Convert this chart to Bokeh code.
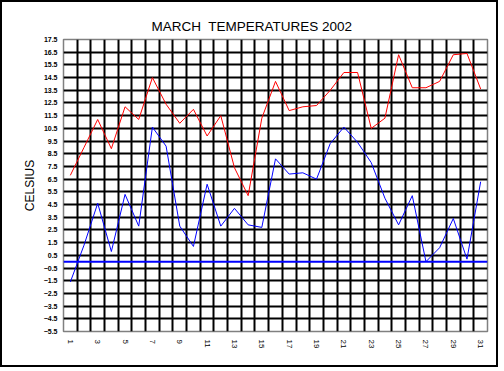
import math
from bokeh.plotting import figure
from bokeh.models import FixedTicker, Span
from bokeh.embed import file_html
from bokeh.resources import INLINE

# ---- data ----
days = list(range(1, 32))
t_max = [6.8, 9.0, 11.2, 8.9, 12.2, 11.2, 14.5, 12.4, 10.9, 12.0, 9.9, 11.5, 7.4, 5.2, 11.3,
         14.2, 11.9, 12.2, 12.3, 13.5, 14.9, 14.9, 10.5, 11.3, 16.3, 13.7, 13.7, 14.2, 16.3, 16.4, 13.6]
t_min = [-1.6, 1.3, 4.6, 0.8, 5.3, 2.8, 10.6, 9.1, 2.8, 1.2, 6.1, 2.8, 4.2, 2.9, 2.7,
         8.1, 6.9, 7.0, 6.5, 9.3, 10.6, 9.4, 7.8, 5.0, 2.9, 5.2, 0.0, 1.1, 3.4, 0.2, 6.3]
x_ticks = [1, 3, 5, 7, 9, 11, 13, 15, 17, 19, 21, 23, 25, 27, 29, 31]
x_tick_labels = ["1", "3", "5", "7", "9", "11", "13", "15", "17", "19", "21", "23", "25", "27", "29", "31"]
y_ticks = [-5.5, -4.5, -3.5, -2.5, -1.5, -0.5, 0.5, 1.5, 2.5, 3.5, 4.5, 5.5, 6.5, 7.5, 8.5,
           9.5, 10.5, 11.5, 12.5, 13.5, 14.5, 15.5, 16.5, 17.5]
title_text = "MARCH\u00a0 TEMPERATURES 2002"
y_label = "CELSIUS"

FONT = "Liberation Sans"

p = figure(width=498, height=367,
           x_range=(days[0] - 0.5, days[-1] + 0.5),
           y_range=(y_ticks[0], y_ticks[-1]),
           output_backend="svg", toolbar_location=None,
           min_border_left=61, min_border_right=13, min_border_top=37, min_border_bottom=38,
           background_fill_color="white", border_fill_color="white",
           outline_line_color="#808080", outline_line_width=1.5)

# outer black border around the whole chart
p.styles = {"border": "2px solid black"}

# title
p.title.text = title_text
p.title.align = "left"
p.title.offset = 88
p.title.standoff = 11
p.title.text_font = FONT
p.title.text_font_size = "13.5px"
p.title.text_font_style = "normal"
p.title.text_color = "black"

# grids
p.xgrid.ticker = FixedTicker(ticks=[d + 0.5 for d in days[:-1]])
p.ygrid.ticker = FixedTicker(ticks=y_ticks[1:-1])
for g in (p.xgrid, p.ygrid):
    g.grid_line_color = "black"
    g.grid_line_width = 2
    g.grid_line_alpha = 1.0

# x axis
xa = p.xaxis[0]
xa.ticker = FixedTicker(ticks=x_ticks)
xa.major_label_overrides = dict(zip(x_ticks, x_tick_labels))
xa.major_label_orientation = -math.pi / 2
xa.major_tick_in = 0
xa.major_tick_out = 0
xa.minor_tick_in = 0
xa.minor_tick_out = 0
xa.axis_line_color = None
xa.major_label_standoff = 8
xa.major_label_text_font = FONT
xa.major_label_text_font_size = "8px"
xa.major_label_text_color = "black"

# y axis
ya = p.yaxis[0]
ya.ticker = FixedTicker(ticks=y_ticks)
ya.major_tick_in = 0
ya.major_tick_out = 0
ya.minor_tick_in = 0
ya.minor_tick_out = 0
ya.axis_line_color = None
ya.major_label_standoff = 6
ya.major_label_text_font = FONT
ya.major_label_text_font_size = "7px"
ya.major_label_text_font_style = "bold"
ya.major_label_text_color = "black"
ya.axis_label = y_label
ya.axis_label_text_font = FONT
ya.axis_label_text_font_size = "12px"
ya.axis_label_text_font_style = "normal"
ya.axis_label_text_color = "black"
ya.axis_label_standoff = 4

# data lines
p.line(days, t_max, line_color="#FF0000", line_width=1)
p.line(days, t_min, line_color="#0000FF", line_width=1)

# zero line
p.add_layout(Span(location=0, dimension="width", line_color="#0000FF", line_width=2))

open("out.html", "w").write(file_html(p, INLINE))
